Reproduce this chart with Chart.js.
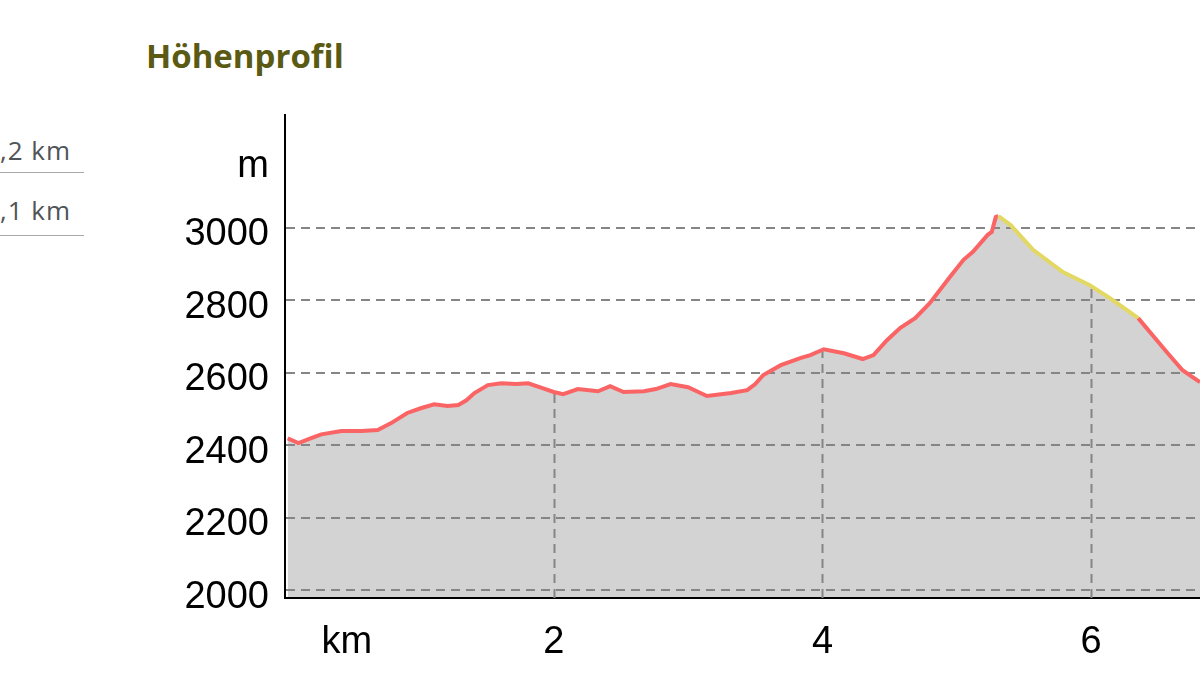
<!DOCTYPE html>
<html>
<head>
<meta charset="utf-8">
<script src="https://cdn.jsdelivr.net/npm/chart.js@4"></script>
<style>
  body { margin: 0; background: #fff; }
  #wrap { position: relative; width: 1200px; height: 684px; overflow: hidden; }
  #chart { position: absolute; left: 0; top: 0; }
  .title { position: absolute; left: 146px; top: 39px; font: bold 33px "Open Sans", sans-serif; line-height: 1; color: #5a5a14; }
  .stat { position: absolute; left: 0; width: 84px; font: 26px "Open Sans", sans-serif; letter-spacing: 1px; line-height: 1; color: #4f5458; border-bottom: 1px solid #aaa; }
</style>
</head>
<body>
<div id="wrap">
  <div class="title">Höhenprofil</div>
  <div class="stat" style="top:137px;height:35px">,2 km</div>
  <div class="stat" style="top:197px;height:38px">,1 km</div>
  <canvas id="chart" width="1200" height="684"></canvas>
</div>
<script>
// elevation profile
const distKm = [0.02, 0.07, 0.10, 0.19, 0.27, 0.42, 0.57, 0.69, 0.79, 0.91, 1.01, 1.11, 1.21, 1.29, 1.35, 1.41,
    1.51, 1.61, 1.72, 1.81, 1.90, 2.00, 2.07, 2.18, 2.33, 2.42, 2.52, 2.67, 2.76, 2.87, 3.00, 3.14,
    3.32, 3.44, 3.50, 3.56, 3.69, 3.84, 3.91, 4.01, 4.16, 4.30, 4.38, 4.48, 4.58, 4.69, 4.80, 4.95,
    5.05, 5.12, 5.23, 5.26, 5.29, 5.31, 5.40, 5.57, 5.79, 5.99, 6.16, 6.35, 6.57, 6.68, 6.81];
const heightM = [2419, 2411, 2406, 2419, 2430, 2439, 2439, 2442, 2461, 2489, 2502, 2513, 2508, 2511, 2524, 2544,
    2566, 2571, 2569, 2571, 2560, 2547, 2541, 2555, 2549, 2563, 2547, 2549, 2555, 2569, 2560, 2536,
    2544, 2552, 2569, 2594, 2621, 2641, 2649, 2665, 2654, 2638, 2649, 2690, 2724, 2751, 2793, 2865,
    2912, 2934, 2981, 2989, 3030, 3033, 3008, 2939, 2878, 2842, 2801, 2751, 2654, 2607, 2574];
// stretch drawn in yellow (km)
const yellowFrom = 5.31;
const yellowTo = 6.35;

const yTicks = [2000, 2200, 2400, 2600, 2800, 3000];
const yUnit = { value: 3190, label: 'm' };
const xTicks = [2, 4, 6];
const xUnit = { value: 0.46, label: 'km' };

const gridColor = '#858585';
const tickFont = { family: 'Liberation Sans, Arial, sans-serif', size: 38 };
const points = distKm.map((d, i) => ({ x: d, y: heightM[i] }));

// vertical grid lines only inside the filled area
const underFillGrid = {
    id: 'underFillGrid',
    beforeDatasetsDraw(chart) {
        const ctx = chart.ctx;
        const pts = chart.getDatasetMeta(1).data;
        const area = chart.chartArea;
        const xs = chart.scales.x;
        ctx.save();
        ctx.beginPath();
        ctx.moveTo(pts[0].x, area.bottom);
        pts.forEach(p => ctx.lineTo(p.x, p.y));
        ctx.lineTo(pts[pts.length - 1].x, area.bottom);
        ctx.closePath();
        ctx.clip();
        ctx.strokeStyle = gridColor;
        ctx.lineWidth = 2;
        ctx.setLineDash([9, 6]);
        xTicks.forEach(v => {
            const px = Math.round(xs.getPixelForValue(v)) + 0.5;
            ctx.beginPath();
            ctx.moveTo(px, area.bottom);
            ctx.lineTo(px, area.top);
            ctx.stroke();
        });
        ctx.restore();
    }
};

new Chart(document.getElementById('chart'), {
    type: 'line',
    data: {
        datasets: [{
            // profile line
            data: points,
            borderColor: '#fb6464',
            borderWidth: 4,
            fill: false,
            pointRadius: 0,
            tension: 0,
            segment: {
                borderColor: c => (c.p0.parsed.x >= yellowFrom && c.p1.parsed.x <= yellowTo) ? '#e2d862' : '#fb6464'
            }
        }, {
            // grey area under it
            data: points,
            borderWidth: 0,
            backgroundColor: '#d3d3d3',
            fill: 'start',
            pointRadius: 0,
            tension: 0
        }]
    },
    options: {
        responsive: false,
        animation: false,
        layout: { padding: { top: 115, left: 0, right: 0, bottom: 0 } },
        plugins: {
            legend: { display: false },
            tooltip: { enabled: false },
            filler: { drawTime: 'beforeDraw' }
        },
        scales: {
            x: {
                type: 'linear',
                min: 0,
                max: 6.81,
                afterBuildTicks: s => { s.ticks = [xUnit.value, ...xTicks].map(v => ({ value: v })); },
                afterFit: s => { s.height = 86; },
                ticks: {
                    font: tickFont,
                    color: '#000',
                    padding: 14,
                    maxRotation: 0,
                    autoSkip: false,
                    callback: v => v === xUnit.value ? xUnit.label : v
                },
                grid: { display: false },
                border: { display: true, color: '#000', width: 2 }
            },
            y: {
                min: 1978,
                max: 3312,
                afterBuildTicks: s => { s.ticks = [...yTicks, yUnit.value].map(v => ({ value: v })); },
                afterFit: s => { s.width = 285; },
                ticks: {
                    font: tickFont,
                    color: '#000',
                    padding: 16,
                    labelOffset: 7,
                    autoSkip: false,
                    callback: v => v === yUnit.value ? yUnit.label : v
                },
                grid: {
                    color: c => (c.tick && c.tick.value === yUnit.value) ? 'rgba(0,0,0,0)' : gridColor,
                    lineWidth: 2,
                    drawTicks: false
                },
                border: { display: true, color: '#000', width: 2, dash: [9, 6] }
            }
        }
    },
    plugins: [underFillGrid]
});
</script>
</body>
</html>
